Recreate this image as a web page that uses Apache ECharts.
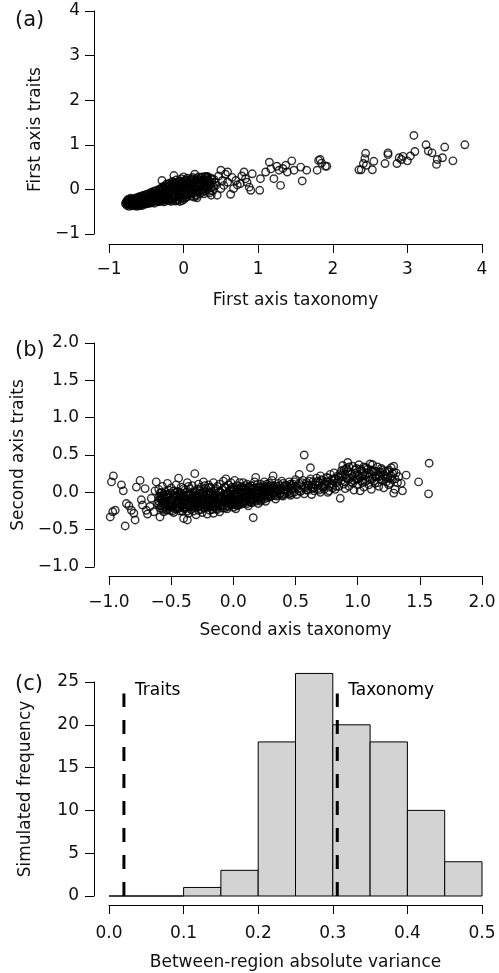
<!DOCTYPE html>
<html>
<head>
<meta charset="utf-8">
<script src="https://cdn.jsdelivr.net/npm/echarts@6/dist/echarts.min.js"></script>
<style>
  html, body { margin: 0; padding: 0; background: #fff; }
  #main { width: 499px; height: 973px; }
</style>
</head>
<body>
<div id="main"></div>
<script>
// (a) first axis: [taxonomy, traits]
const firstAxisPoints = [
  [-0.77,-0.29],[-0.76,-0.25],[-0.75,-0.31],[-0.74,-0.27],[-0.73,-0.33],[-0.72,-0.24],[-0.71,-0.29],[-0.70,-0.35],
  [-0.70,-0.26],[-0.69,-0.31],[-0.68,-0.22],[-0.67,-0.28],[-0.67,-0.34],[-0.66,-0.25],[-0.65,-0.30],[-0.65,-0.20],
  [-0.64,-0.36],[-0.63,-0.27],[-0.62,-0.23],[-0.62,-0.32],[-0.61,-0.18],[-0.60,-0.29],[-0.60,-0.35],[-0.59,-0.24],
  [-0.58,-0.20],[-0.58,-0.31],[-0.57,-0.27],[-0.56,-0.16],[-0.56,-0.34],[-0.55,-0.22],[-0.54,-0.29],[-0.54,-0.18],
  [-0.53,-0.25],[-0.52,-0.32],[-0.52,-0.14],[-0.51,-0.21],[-0.50,-0.27],[-0.50,-0.12],[-0.49,-0.30],[-0.48,-0.17],
  [-0.48,-0.24],[-0.47,-0.10],[-0.46,-0.28],[-0.46,-0.20],[-0.45,-0.14],[-0.44,-0.25],[-0.44,-0.07],[-0.43,-0.18],
  [-0.42,-0.29],[-0.42,-0.11],[-0.41,-0.22],[-0.40,-0.04],[-0.40,-0.16],[-0.39,-0.26],[-0.38,-0.09],[-0.38,-0.20],
  [-0.37,-0.13],[-0.36,-0.02],[-0.36,-0.24],[-0.35,-0.17],[-0.34,-0.07],[-0.34,-0.28],[-0.33,-0.12],[-0.32,0.01],
  [-0.32,-0.21],[-0.31,-0.15],[-0.30,-0.05],[-0.30,-0.26],[-0.29,0.20],[-0.29,-0.10],[-0.28,-0.18],[-0.27,0.03],
  [-0.27,-0.23],[-0.26,-0.13],[-0.25,-0.03],[-0.25,0.08],[-0.24,-0.20],[-0.23,-0.08],[-0.23,0.12],[-0.22,-0.16],
  [-0.21,0.00],[-0.21,-0.25],[-0.20,-0.11],[-0.20,0.06],[-0.19,-0.19],[-0.18,0.14],[-0.18,-0.05],[-0.17,-0.14],
  [-0.16,0.03],[-0.16,-0.22],[-0.15,0.09],[-0.15,-0.25],[-0.14,-0.09],[-0.13,0.31],[-0.13,0.16],[-0.12,-0.02],
  [-0.12,-0.18],[-0.11,0.06],[-0.10,-0.12],[-0.10,0.21],[-0.09,-0.05],[-0.08,-0.25],[-0.08,0.11],[-0.07,-0.16],
  [-0.06,0.02],[-0.06,0.18],[-0.05,-0.09],[-0.04,0.08],[-0.04,-0.20],[-0.03,0.24],[-0.02,-0.03],[-0.02,-0.25],
  [-0.01,0.13],[0.00,0.28],[0.00,-0.13],[0.01,0.04],[0.02,-0.07],[0.02,0.19],[0.03,-0.18],[0.04,0.10],
  [0.05,0.00],[0.05,0.25],[0.06,-0.11],[0.07,0.15],[0.08,0.05],[0.08,-0.04],[0.09,0.21],[0.10,-0.15],
  [0.11,0.09],[0.12,0.00],[0.12,0.27],[0.13,-0.08],[0.14,0.16],[0.15,0.34],[0.15,0.04],[0.16,-0.12],
  [0.17,0.22],[0.18,-0.19],[0.18,0.10],[0.19,-0.02],[0.20,0.17],[0.21,0.05],[0.22,-0.09],[0.23,0.26],
  [0.23,0.12],[0.24,0.00],[0.25,0.20],[0.26,-0.06],[0.27,0.08],[0.28,0.15],[0.29,0.29],[0.30,-0.03],
  [0.30,0.21],[0.31,0.10],[0.32,0.29],[0.33,0.03],[0.34,0.18],[0.35,-0.08],[0.36,0.12],[0.37,-0.13],
  [0.38,0.24],[0.40,0.06],[0.42,0.16],[0.45,-0.13],[0.47,0.30],[0.50,0.02],[0.50,0.43],[0.52,0.20],
  [0.54,0.09],[0.56,0.34],[0.59,0.39],[0.59,0.16],[0.63,-0.11],[0.65,0.27],[0.67,0.02],[0.70,0.20],
  [0.72,0.10],[0.76,0.13],[0.78,0.30],[0.81,0.39],[0.83,0.24],[0.85,0.16],[0.88,0.05],[0.90,-0.02],
  [0.92,0.35],[1.02,-0.02],[1.03,0.24],
  [-0.78,-0.32],[-0.76,-0.36],[-0.74,-0.22],[-0.73,-0.38],[-0.71,-0.20],[-0.69,-0.37],[-0.68,-0.26],[-0.66,-0.32],
  [-0.64,-0.21],[-0.63,-0.38],[-0.61,-0.26],[-0.59,-0.37],[-0.57,-0.22],[-0.55,-0.36],[-0.53,-0.20],[-0.51,-0.33],
  [-0.49,-0.22],[-0.47,-0.32],[-0.45,-0.24],[-0.43,-0.30],[-0.41,-0.16],[-0.39,-0.31],[-0.37,-0.22],[-0.35,-0.10],
  [-0.33,-0.27],[-0.31,-0.02],[-0.29,-0.22],[-0.28,0.06],[-0.26,-0.28],[-0.24,0.02],[-0.22,-0.07],[-0.19,0.09],
  [-0.17,-0.27],[-0.14,0.12],[-0.11,-0.26],[-0.07,0.05],[-0.05,-0.27],[-0.03,0.15],[0.01,-0.22],[0.03,0.22],
  [0.06,0.12],[0.09,-0.10],[0.11,0.24],[0.14,-0.17],[0.17,0.01],[0.20,0.28],[0.24,0.19],[0.27,-0.10],[0.31,0.25],
  [-0.76,-0.30],[-0.75,-0.27],[-0.74,-0.34],[-0.72,-0.29],[-0.71,-0.25],[-0.70,-0.31],[-0.69,-0.22],[-0.68,-0.33],
  [-0.67,-0.24],[-0.66,-0.29],[-0.65,-0.35],[-0.64,-0.26],[-0.63,-0.19],[-0.62,-0.29],[-0.61,-0.34],[-0.60,-0.23],
  [-0.59,-0.16],[-0.58,-0.27],[-0.57,-0.33],[-0.56,-0.21],[-0.55,-0.28],[-0.54,-0.13],[-0.53,-0.30],[-0.52,-0.24],
  [-0.51,-0.17],[-0.50,-0.31],[-0.49,-0.11],[-0.48,-0.28],[-0.47,-0.21],[-0.46,-0.15],[-0.45,-0.29],[-0.44,-0.19],
  [-0.43,-0.09],[-0.42,-0.23],[-0.41,-0.27],[-0.40,-0.12],[-0.39,-0.05],[-0.38,-0.24],[-0.37,-0.17],[-0.36,-0.08],
  [-0.35,-0.26],[-0.34,-0.14],[-0.33,-0.02],[-0.32,-0.18],[-0.31,-0.24],[-0.30,-0.09],[-0.29,0.02],[-0.28,-0.13],
  [-0.27,-0.27],[-0.26,-0.05],[-0.25,-0.17],[-0.24,0.07],[-0.23,-0.23],[-0.22,-0.01],[-0.21,-0.12],[-0.20,0.12],
  [-0.19,-0.08],[-0.18,-0.22],[-0.17,0.05],[-0.16,-0.10],[-0.15,0.18],[-0.14,-0.19],[-0.13,0.00],[-0.12,0.10],
  [-0.11,-0.15],[-0.10,0.03],[-0.09,0.15],[-0.08,-0.08],[-0.07,-0.22],[-0.06,0.09],[-0.05,-0.02],[-0.04,0.19],
  [-0.03,-0.12],[-0.02,0.06],[-0.01,-0.19],[0.00,0.16],[0.01,-0.05],[0.02,0.10],[0.03,-0.11],[0.04,0.20],
  [0.05,-0.16],[0.06,0.05],[0.07,-0.07],[0.08,0.18],[0.09,0.09],[0.10,0.01],[0.11,-0.05],[0.12,0.14],
  [0.13,0.22],[0.14,0.05],[0.15,-0.07],[0.16,0.12],[0.17,-0.15],[0.18,0.25],[0.19,0.07],[0.20,-0.05],
  [0.21,0.14],[0.22,0.22],[0.23,-0.03],[0.24,0.09],[0.25,0.28],[0.26,0.15],[0.27,0.01],[0.28,0.22],
  [0.29,0.05],[0.30,0.13],[0.31,0.28],[0.32,0.07],[0.33,0.20],[0.34,-0.04],[0.35,0.14],[0.36,0.25],
  [0.37,0.04],[0.38,0.16],[0.39,-0.03],[0.41,0.22],[0.43,0.09],
  [1.10,0.39],[1.15,0.61],[1.17,0.46],[1.21,0.24],[1.28,0.43],[1.30,0.09],[1.37,0.54],[1.39,0.39],
  [1.45,0.64],[1.48,0.43],[1.57,0.50],[1.59,0.19],[1.65,0.43],[1.25,0.52],[1.33,0.47],
  [1.79,0.43],[1.81,0.65],[1.83,0.67],[1.85,0.59],[1.90,0.52],[1.92,0.52],
  [2.35,0.44],[2.38,0.44],[2.41,0.58],[2.43,0.69],[2.44,0.81],[2.45,0.54],[2.53,0.44],[2.55,0.63],
  [2.70,0.58],[2.74,0.82],[2.74,0.78],[2.86,0.58],[2.89,0.71],[2.92,0.67],[2.94,0.74],[3.00,0.64],
  [3.04,0.75],[3.087,1.21],[3.10,0.85],[3.25,1.00],[3.28,0.86],[3.33,0.82],[3.39,0.56],[3.40,0.67],
  [3.47,0.71],[3.50,0.95],[3.61,0.64],[3.77,1.00]
];

// (b) second axis: [taxonomy, traits]
const secondAxisPoints = [
  [-1.07,0.03],[-0.98,0.14],[-0.965,0.22],[-0.90,0.10],[-0.885,0.02],[-1.03,-0.21],[-0.99,-0.33],[-0.95,-0.24],
  [-0.97,-0.26],[-0.87,-0.45],[-0.86,-0.15],[-0.84,-0.18],[-0.80,-0.28],[-0.79,-0.37],[-0.82,-0.24],[-0.75,0.16],
  [-0.78,0.07],[-0.71,0.05],[-0.73,-0.17],[-0.70,-0.24],[-0.74,-0.10],[-0.67,-0.19],[-0.64,-0.26],[-0.62,0.14],
  [-0.59,-0.33],[-0.66,-0.08],[-0.63,0.02],[-0.69,-0.29],
  [-0.60,-0.12],[-0.60,0.04],[-0.59,-0.21],[-0.58,-0.05],[-0.57,-0.15],[-0.57,0.08],[-0.56,-0.26],[-0.55,-0.09],
  [-0.55,0.01],[-0.54,-0.18],[-0.53,0.12],[-0.53,-0.23],[-0.52,-0.03],[-0.51,-0.13],[-0.50,0.06],[-0.50,-0.20],
  [-0.49,-0.08],[-0.48,0.02],[-0.48,-0.27],[-0.47,-0.16],[-0.46,0.10],[-0.46,-0.05],[-0.45,-0.22],[-0.44,0.19],
  [-0.44,-0.11],[-0.43,0.00],[-0.42,-0.18],[-0.42,0.07],[-0.41,-0.25],[-0.40,-0.06],[-0.40,-0.14],[-0.40,-0.35],
  [-0.39,0.03],[-0.38,-0.20],[-0.38,-0.10],[-0.37,0.13],[-0.37,-0.37],[-0.36,-0.02],[-0.36,-0.28],[-0.35,-0.15],
  [-0.35,0.05],[-0.34,-0.08],[-0.34,-0.23],[-0.33,0.09],[-0.32,-0.12],[-0.32,-0.01],[-0.31,0.25],[-0.31,-0.19],
  [-0.30,-0.06],[-0.30,-0.30],[-0.29,0.04],[-0.29,-0.15],[-0.28,-0.24],[-0.28,0.11],[-0.27,-0.09],[-0.27,-0.02],
  [-0.26,-0.18],[-0.26,0.07],[-0.25,-0.27],[-0.25,-0.11],[-0.24,0.01],[-0.24,0.14],[-0.23,-0.21],[-0.23,-0.05],
  [-0.22,-0.14],[-0.22,0.05],[-0.21,-0.29],[-0.21,-0.08],[-0.20,0.10],[-0.20,-0.17],
  [-0.19,-0.01],[-0.19,-0.24],[-0.18,-0.11],[-0.18,0.06],[-0.17,-0.19],[-0.17,-0.04],[-0.16,0.13],[-0.16,-0.28],
  [-0.15,-0.09],[-0.15,0.02],[-0.14,-0.16],[-0.14,-0.22],[-0.13,0.08],[-0.13,-0.06],[-0.12,-0.13],[-0.12,0.00],
  [-0.11,-0.26],[-0.11,0.11],[-0.10,-0.08],[-0.10,-0.18],[-0.09,0.03],[-0.09,-0.12],[-0.08,-0.03],[-0.08,0.15],
  [-0.07,-0.21],[-0.07,-0.09],[-0.06,0.18],[-0.06,0.06],[-0.05,-0.14],[-0.05,-0.01],[-0.04,-0.19],[-0.04,0.10],
  [-0.03,-0.07],[-0.03,0.02],[-0.02,-0.16],[-0.02,0.13],[-0.01,-0.04],[-0.01,-0.11],[0.00,0.05],[0.00,-0.20],
  [0.01,0.16],[0.01,-0.08],[0.02,-0.22],[0.02,0.00],[0.03,-0.13],[0.03,0.09],[0.04,-0.05],[0.04,-0.17],
  [0.05,0.03],[0.05,0.13],[0.06,-0.10],[0.07,-0.02],[0.07,0.08],[0.08,0.13],[0.08,-0.15],[0.09,-0.06],
  [0.10,0.04],[0.10,-0.12],[0.11,0.11],[0.11,-0.02],[0.12,-0.18],[0.13,0.06],[0.13,-0.08],[0.14,0.00],
  [0.15,-0.14],[0.15,0.09],[0.16,-0.34],[0.16,-0.04],[0.17,0.14],[0.17,-0.10],[0.18,0.20],[0.18,0.02],
  [0.19,-0.07],[0.20,-0.15],[0.20,0.07],
  [0.21,-0.01],[0.22,0.11],[0.23,-0.09],[0.24,0.04],[0.25,-0.04],[0.25,0.14],[0.26,-0.12],[0.27,0.08],
  [0.28,0.00],[0.29,0.12],[0.30,-0.06],[0.30,0.04],[0.31,0.16],[0.32,0.22],[0.32,-0.02],[0.33,0.08],
  [0.34,-0.09],[0.35,0.02],[0.36,0.12],[0.37,-0.03],[0.38,0.06],[0.39,0.15],[0.40,-0.05],[0.41,0.03],
  [0.42,0.10],[0.43,-0.01],[0.44,0.07],[0.45,0.14],[0.46,-0.04],[0.47,0.04],[0.48,0.11],[0.49,0.00],
  [0.50,0.08],[0.50,0.17],
  [0.51,-0.03],[0.52,0.05],[0.53,0.24],[0.53,0.12],[0.54,0.01],[0.55,0.09],[0.56,0.16],[0.57,0.50],
  [0.57,-0.02],[0.58,0.06],[0.59,0.13],[0.60,0.03],[0.61,0.10],[0.62,0.33],[0.62,0.18],[0.63,-0.03],
  [0.63,0.07],[0.64,0.14],[0.65,0.02],[0.66,0.10],[0.67,0.19],[0.68,0.05],[0.69,0.13],[0.70,0.22],
  [0.70,0.00],[0.71,0.09],[0.72,0.16],[0.73,0.04],[0.74,0.11],[0.75,0.20],[0.76,0.00],[0.76,0.14],
  [0.77,0.07],[0.78,0.24],[0.79,0.17],[0.80,0.10],[0.81,0.26],[0.82,0.04],[0.82,0.19],[0.83,0.13],
  [0.84,0.22],[0.85,0.08],[0.86,-0.08],
  [0.87,0.29],[0.87,0.16],[0.88,0.36],[0.89,0.11],[0.90,0.24],[0.90,0.05],[0.91,0.32],[0.92,0.40],
  [0.92,0.18],[0.93,0.08],[0.94,0.27],[0.95,0.14],[0.96,0.35],[0.96,0.21],[0.97,0.03],[0.98,0.30],
  [0.99,0.17],[1.00,0.24],[1.00,0.10],[1.01,0.37],[1.02,0.02],[1.02,0.20],[1.03,0.29],[1.04,0.13],
  [1.05,0.34],[1.05,0.07],[1.06,0.23],[1.07,0.16],[1.08,0.31],[1.09,0.10],[1.10,0.25],[1.10,0.38],
  [1.11,0.04],[1.12,0.18],[1.12,0.37],[1.13,0.28],[1.14,0.12],[1.15,0.22],[1.16,0.34],[1.17,0.08],
  [1.18,0.27],[1.19,0.17],[1.20,0.30],[1.21,0.06],[1.22,0.21],[1.23,0.14],[1.24,0.28],[1.25,0.10],
  [1.26,0.19],[1.27,0.33],[1.28,0.17],[1.29,0.35],[1.29,-0.01],[1.30,0.04],[1.31,0.26],[1.32,0.13],
  [1.33,0.21],[1.35,0.12],[1.36,0.02],[1.39,0.23],[1.49,0.14],[1.575,0.39],[1.57,-0.02],
  [-0.58,-0.10],[-0.54,-0.03],[-0.51,-0.19],[-0.47,-0.01],[-0.45,-0.12],[-0.43,-0.21],[-0.41,-0.03],[-0.39,-0.13],
  [-0.36,-0.18],[-0.33,-0.05],[-0.31,-0.10],[-0.29,-0.20],[-0.27,-0.14],[-0.25,-0.06],[-0.23,-0.16],[-0.21,-0.02],
  [-0.19,-0.13],[-0.17,-0.09],[-0.15,-0.19],[-0.13,-0.12],[-0.11,-0.05],[-0.09,-0.16],[-0.07,-0.04],[-0.05,-0.09],
  [-0.03,-0.15],[-0.01,0.01],[0.01,-0.14],[0.03,-0.03],[0.06,-0.16],[0.09,0.01],[0.12,-0.05],[0.14,-0.10],
  [0.19,0.03],[0.22,-0.06],[0.26,0.02],[0.29,-0.02],
  [-0.61,-0.15],[-0.60,-0.06],[-0.59,-0.01],[-0.58,-0.18],[-0.57,-0.08],[-0.56,-0.12],[-0.55,-0.20],[-0.54,-0.07],
  [-0.53,-0.14],[-0.52,0.03],[-0.51,-0.24],[-0.50,-0.10],[-0.49,-0.17],[-0.48,-0.04],[-0.47,-0.22],[-0.46,-0.13],
  [-0.45,0.01],[-0.44,-0.19],[-0.43,-0.08],[-0.42,-0.01],[-0.41,-0.16],[-0.40,0.05],[-0.39,-0.22],[-0.38,-0.04],
  [-0.37,-0.15],[-0.36,0.08],[-0.35,-0.20],[-0.34,-0.03],[-0.33,-0.17],[-0.32,-0.25],[-0.31,0.01],[-0.30,-0.13],
  [-0.29,-0.07],[-0.28,-0.18],[-0.27,0.04],[-0.26,-0.23],[-0.25,-0.01],[-0.24,-0.13],[-0.23,0.09],[-0.22,-0.20],
  [-0.21,-0.11],[-0.20,-0.04],[-0.19,0.07],[-0.18,-0.17],[-0.17,-0.23],[-0.16,-0.06],[-0.15,-0.14],[-0.14,0.05],
  [-0.13,-0.19],[-0.12,-0.07],[-0.11,0.01],[-0.10,-0.14],[-0.09,-0.21],[-0.08,-0.10],[-0.07,0.07],[-0.06,-0.12],
  [-0.05,-0.18],[-0.04,-0.04],[-0.03,-0.11],[-0.02,0.05],[-0.01,-0.17],[0.00,-0.08],[0.01,0.03],[0.02,-0.11],
  [0.03,-0.18],[0.04,0.05],[0.05,-0.08],[0.06,0.00],[0.07,-0.13],[0.08,0.06],[0.09,-0.10],[0.10,-0.01],
  [0.11,-0.15],[0.12,0.07],[0.13,-0.02],[0.14,-0.13],[0.15,0.03],[0.16,-0.08],[0.17,0.05],[0.18,-0.12],
  [0.19,-0.02],[0.20,0.03],[0.21,-0.10],[0.22,0.02],[0.23,0.07],[0.24,-0.06],[0.25,0.05],[0.26,-0.02],
  [0.27,0.11],[0.28,-0.07],[0.29,0.06],[0.30,0.01],[0.31,-0.04],[0.32,0.09],[0.33,0.00],[0.34,0.05],
  [0.35,-0.05],[0.36,0.03],[0.37,0.09],[0.38,-0.01],[0.39,0.05],[0.40,0.12],[0.41,-0.02],[0.42,0.04],
  [0.43,0.09],[0.44,0.01],[0.45,0.06],[0.46,0.11],[0.47,-0.01],[0.48,0.06],[0.49,0.14],[0.51,0.07],
  [0.53,0.02],[0.55,0.13],[0.57,0.08],[0.59,0.03],[0.61,0.15],[0.63,0.10],[0.65,0.06],[0.67,0.13],
  [0.69,0.03],[0.71,0.17],[0.73,0.09],[0.75,0.14],[0.77,0.02],[0.79,0.12],[0.81,0.18],[0.83,0.08],
  [0.85,0.20],[0.88,0.21],[0.90,0.14],[0.92,0.28],[0.94,0.19],[0.96,0.12],[0.98,0.25],[1.00,0.18],
  [1.02,0.31],[1.04,0.22],[1.06,0.14],[1.08,0.26],[1.10,0.17],[1.12,0.29],[1.14,0.21],[1.16,0.13],
  [1.18,0.23],[1.20,0.16],[1.22,0.28],[1.24,0.20],[1.26,0.12],[1.28,0.25],[1.30,0.18],
  [-0.60,-0.17],[-0.59,-0.08],[-0.58,0.00],[-0.57,-0.22],[-0.56,-0.04],[-0.55,-0.15],[-0.54,-0.24],[-0.53,-0.06],
  [-0.52,-0.17],[-0.51,-0.01],[-0.50,-0.15],[-0.49,-0.25],[-0.48,-0.11],[-0.47,-0.07],[-0.46,-0.20],[-0.45,-0.04],
  [-0.44,-0.15],[-0.43,-0.25],[-0.42,-0.06],[-0.41,-0.11],[-0.40,-0.20],[-0.39,-0.08],[-0.38,0.00],[-0.37,-0.25],
  [-0.36,-0.12],[-0.35,-0.03],[-0.34,-0.18],[-0.33,-0.09],[-0.32,-0.20],[-0.31,-0.05],[-0.30,-0.16],[-0.29,-0.11],
  [-0.28,-0.01],[-0.27,-0.19],[-0.26,-0.09],[-0.25,-0.15],[-0.24,-0.21],[-0.23,-0.10],[-0.22,-0.03],[-0.21,-0.18],
  [-0.20,-0.09],[-0.19,-0.20],[-0.18,0.00],[-0.17,-0.13],[-0.16,-0.19],[-0.15,-0.04],[-0.14,-0.10],[-0.13,-0.23],
  [-0.12,-0.16],[-0.11,-0.09],[-0.10,0.00],[-0.09,-0.07],[-0.08,-0.18],[-0.07,-0.13],[-0.06,-0.03],[-0.05,-0.22],
  [-0.04,-0.10],[-0.03,-0.02],[-0.02,-0.09],[-0.01,0.07],[0.00,-0.14],[0.01,-0.02],[0.02,-0.16],[0.03,0.04],
  [0.04,-0.10],[0.05,-0.13],[0.06,0.07],[0.07,-0.08],[0.08,-0.01],[0.09,-0.13],[0.10,0.09],[0.11,-0.07],
  [0.12,0.02],[0.13,-0.12],[0.14,0.09],[0.15,-0.02],[0.16,0.05],[0.17,-0.05],[0.18,-0.07],[0.19,0.10],
  [0.20,-0.08],[0.21,0.06],[0.22,-0.12],[0.23,0.01],[0.24,0.09],[0.25,-0.09],[0.26,0.07],[0.27,-0.04],
  [0.28,0.05],[0.29,-0.05],[0.30,0.09],[0.31,0.04],[0.33,-0.04],[0.35,0.08],[0.37,0.02],[0.39,-0.04],
  [0.41,0.08],[0.43,0.03],[0.45,-0.02],[0.47,0.09],
  [0.87,0.23],[0.89,0.30],[0.91,0.19],[0.93,0.34],[0.95,0.24],[0.97,0.16],[0.99,0.32],[1.01,0.22],
  [1.03,0.15],[1.05,0.27],[1.07,0.33],[1.09,0.20],[1.11,0.30],[1.13,0.15],[1.15,0.28],[1.17,0.21],
  [1.19,0.32],[1.21,0.24],[1.23,0.18],[1.25,0.30],[1.27,0.22],[1.29,0.27],[0.60,0.09],[0.64,0.05],
  [0.68,0.15],[0.72,0.07],[0.76,0.19],[0.80,0.06],[0.84,0.15],[0.86,0.25]
];

// (c) histogram of simulated between-region variance
const binStarts = [0, 0.05, 0.10, 0.15, 0.20, 0.25, 0.30, 0.35, 0.40, 0.45];
const binWidth = 0.05;
const binCounts = [0, 0, 1, 3, 18, 26, 20, 18, 10, 4];
const observedTraits = 0.02;
const observedTaxonomy = 0.306;
const dashTop = 23.65;
const labelLevel = 24.0;

// axis ranges [min, max, interval]
const rangeA_x = [-1, 4, 1];
const rangeA_y = [-1, 4, 1];
const rangeB_x = [-1, 2, 0.5];
const rangeB_y = [-1, 2, 0.5];
const rangeC_x = [0, 0.5, 0.1];
const rangeC_y = [0, 25, 5];

const FONT = '"DejaVu Sans", "Liberation Sans", sans-serif';
const TXT = '#111';

const minus = (s) => s.replace('-', '\u2212');
const fmtInt = (v) => minus(String(v));
const fmt1 = (v) => minus(v.toFixed(1));

function makeAxis(gridIndex, range, opts) {
  return {
    type: 'value',
    gridIndex: gridIndex,
    position: opts.pos,
    min: range[0],
    max: range[1],
    interval: range[2],
    offset: opts.offset,
    name: opts.name,
    nameLocation: 'middle',
    nameGap: opts.nameGap,
    nameTextStyle: { fontFamily: FONT, fontSize: 17, color: TXT, padding: opts.namePad || 0 },
    axisLine: { show: true, onZero: false, lineStyle: { color: '#000', width: 1 } },
    axisTick: { show: true, length: 9, lineStyle: { color: '#000', width: 1 } },
    axisLabel: {
      show: true, margin: opts.margin, formatter: opts.fmt,
      fontFamily: FONT, fontSize: 17, color: TXT,
      showMinLabel: true, showMaxLabel: true, hideOverlap: false
    },
    splitLine: { show: false }
  };
}

function renderBin(params, api) {
  const p0 = api.coord([api.value(0), 0]);
  const p1 = api.coord([api.value(1), api.value(2)]);
  return {
    type: 'rect',
    shape: { x: p0[0], y: p1[1], width: p1[0] - p0[0], height: p0[1] - p1[1] },
    style: { fill: '#d3d3d3', stroke: '#000', lineWidth: 1 }
  };
}

const circleStyle = {
  type: 'scatter',
  symbol: 'circle',
  symbolSize: 7.5,
  itemStyle: { color: 'rgba(0,0,0,0)', borderColor: '#000', borderWidth: 1.4 },
  emphasis: { disabled: true },
  silent: true
};

const chart = echarts.init(document.getElementById('main'), null, { renderer: 'canvas' });

chart.setOption({
  animation: false,
  backgroundColor: '#fff',
  grid: [
    { left: 109, width: 373, top: 11, height: 223 },
    { left: 109, width: 373, top: 343, height: 224 },
    { left: 109, width: 373, top: 682, height: 214 }
  ],
  xAxis: [
    makeAxis(0, rangeA_x, { pos: 'bottom', offset: 10, name: 'First axis taxonomy', nameGap: 48, margin: 17, fmt: fmtInt }),
    makeAxis(1, rangeB_x, { pos: 'bottom', offset: 9, name: 'Second axis taxonomy', nameGap: 46, margin: 18, fmt: fmt1 }),
    makeAxis(2, rangeC_x, { pos: 'bottom', offset: 9, name: 'Between-region absolute variance', nameGap: 49, margin: 20, fmt: fmt1 })
  ],
  yAxis: [
    makeAxis(0, rangeA_y, { pos: 'left', offset: 15, name: 'First axis traits', nameGap: 42, margin: 14, fmt: fmtInt, namePad: [0, 14, 0, 0] }),
    makeAxis(1, rangeB_y, { pos: 'left', offset: 15, name: 'Second axis traits', nameGap: 59, margin: 15, fmt: fmt1 }),
    makeAxis(2, rangeC_y, { pos: 'left', offset: 15, name: 'Simulated frequency', nameGap: 60, margin: 15, fmt: fmtInt })
  ],
  graphic: [
    { type: 'text', left: 15, top: 10, style: { text: '(a)', font: '21px ' + FONT, fill: TXT } },
    { type: 'text', left: 15, top: 340, style: { text: '(b)', font: '21px ' + FONT, fill: TXT } },
    { type: 'text', left: 15, top: 674, style: { text: '(c)', font: '21px ' + FONT, fill: TXT } }
  ],
  series: [
    Object.assign({}, circleStyle, { xAxisIndex: 0, yAxisIndex: 0, data: firstAxisPoints }),
    Object.assign({}, circleStyle, { xAxisIndex: 1, yAxisIndex: 1, data: secondAxisPoints }),
    {
      type: 'custom',
      xAxisIndex: 2, yAxisIndex: 2,
      clip: false,
      silent: true,
      renderItem: renderBin,
      encode: { x: [0, 1], y: 2 },
      data: binStarts.map((s, i) => [s, s + binWidth, binCounts[i]])
    },
    {
      type: 'line', xAxisIndex: 2, yAxisIndex: 2, symbol: 'none', silent: true,
      data: [[observedTraits, 0], [observedTraits, dashTop]],
      lineStyle: { color: '#000', width: 3, type: [14, 13] }
    },
    {
      type: 'line', xAxisIndex: 2, yAxisIndex: 2, symbol: 'none', silent: true,
      data: [[observedTaxonomy, 0], [observedTaxonomy, dashTop]],
      lineStyle: { color: '#000', width: 3, type: [14, 13] }
    },
    {
      type: 'scatter', xAxisIndex: 2, yAxisIndex: 2, symbolSize: 0, silent: true,
      emphasis: { disabled: true },
      data: [
        { value: [observedTraits, labelLevel], name: 'Traits' },
        { value: [observedTaxonomy, labelLevel], name: 'Taxonomy' }
      ],
      label: {
        show: true, position: 'right', distance: 11, formatter: '{b}',
        fontFamily: FONT, fontSize: 17, color: '#000', opacity: 1
      }
    }
  ]
});
</script>
</body>
</html>
